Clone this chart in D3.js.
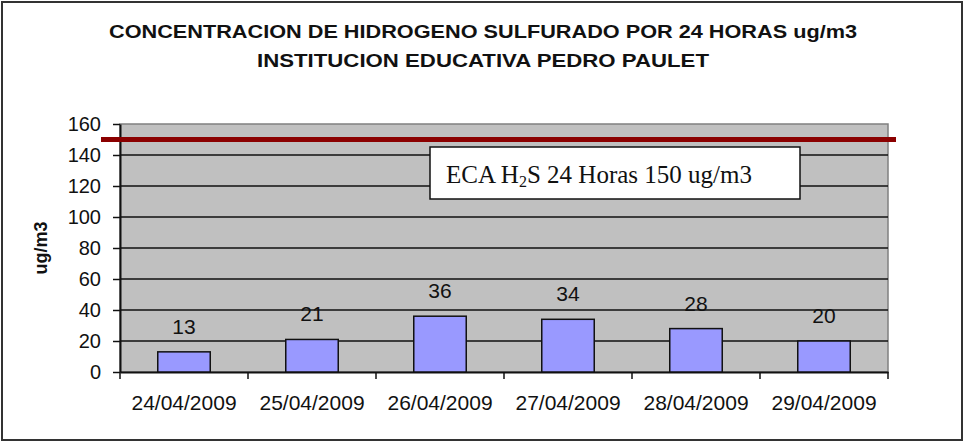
<!DOCTYPE html>
<html>
<head>
<meta charset="utf-8">
<script src="https://cdn.jsdelivr.net/npm/d3@7"></script>
<style>
  body { margin: 0; background: #fff; }
  text { font-family: "Liberation Sans", Arial, sans-serif; }
</style>
</head>
<body>
<svg id="chart"></svg>
<script>
const outerWidth = 966;
const outerHeight = 443;
const margin = {left: 120, top: 124, right: 78, bottom: 71};
const width = outerWidth - margin.left - margin.right;
const height = outerHeight - margin.top - margin.bottom;

var dates = ["24/04/2009", "25/04/2009", "26/04/2009", "27/04/2009", "28/04/2009", "29/04/2009"];
var values = [13, 21, 36, 34, 28, 20];
var yTicks = [0, 20, 40, 60, 80, 100, 120, 140, 160];
var limitValue = 150;
var titleLines = ["CONCENTRACION DE HIDROGENO SULFURADO POR 24 HORAS ug/m3", "INSTITUCION EDUCATIVA PEDRO PAULET"];

var svg = d3.select("#chart")
  .attr("width", outerWidth)
  .attr("height", outerHeight);

// outer frame
svg.append("rect")
  .attr("x", 2).attr("y", 2)
  .attr("width", 960).attr("height", 438)
  .style("fill", "white").style("stroke", "#333").style("stroke-width", 2);

svg.selectAll(".title")
  .data(titleLines)
  .enter()
  .append("text")
  .attr("class", "title")
  .attr("x", 483)
  .attr("y", (d, i) => 38 + i * 29)
  .attr("text-anchor", "middle")
  .style("font-weight", "bold")
  .style("font-size", "18.5px")
  .style("fill", "#111")
  .attr("textLength", (d, i) => i == 0 ? 748 : 452)
  .attr("lengthAdjust", "spacingAndGlyphs")
  .text(d => d);

var g = svg.append("g")
  .attr("transform", "translate(" + margin.left + "," + margin.top + ")");

var x = d3.scaleBand().domain(dates).range([0, width]).paddingInner(0.59).paddingOuter(0.295);
var xb = d3.scaleBand().domain(dates).range([0, width]);
var y = d3.scaleLinear().domain([0, 160]).range([height, 0]);

g.append("rect")
  .attr("width", width).attr("height", height)
  .style("fill", "#c0c0c0").style("stroke", "#808080").style("stroke-width", 1.5);

g.selectAll(".grid")
  .data(yTicks.slice(1, -1))
  .enter()
  .append("line")
  .attr("x1", 0).attr("x2", width)
  .attr("y1", d => y(d)).attr("y2", d => y(d))
  .style("stroke", "#111").style("stroke-width", 1.5);

var yAxis = g.append("g")
  .call(d3.axisLeft(y).tickValues(yTicks).tickSize(7).tickPadding(12).tickSizeOuter(0));
yAxis.select(".domain").style("stroke", "#111").style("stroke-width", 2);
yAxis.selectAll(".tick line").style("stroke", "#111").style("stroke-width", 1.5);
yAxis.selectAll("text").style("font-size", "20px").style("fill", "#111");

var xAxis = g.append("g")
  .attr("transform", "translate(0," + height + ")")
  .call(d3.axisBottom(xb).tickSize(0).tickPadding(23).tickSizeOuter(0));
xAxis.select(".domain").style("stroke", "#111").style("stroke-width", 2);
xAxis.selectAll("text").style("font-size", "21px").style("fill", "#111");

g.selectAll(".xtick")
  .data(d3.range(dates.length + 1))
  .enter()
  .append("line")
  .attr("x1", i => i * xb.step()).attr("x2", i => i * xb.step())
  .attr("y1", height).attr("y2", height + 7)
  .style("stroke", "#111").style("stroke-width", 1.5);

g.selectAll(".bar")
  .data(values)
  .enter()
  .append("rect")
  .attr("x", (d, i) => x(dates[i]))
  .attr("y", d => y(d))
  .attr("width", x.bandwidth())
  .attr("height", d => height - y(d))
  .style("fill", "#9999ff").style("stroke", "#111").style("stroke-width", 1.5);

g.selectAll(".val")
  .data(values)
  .enter()
  .append("text")
  .attr("x", (d, i) => x(dates[i]) + x.bandwidth() / 2)
  .attr("y", d => y(d) - 18)
  .attr("text-anchor", "middle")
  .style("font-size", "21px").style("fill", "#111")
  .text(d => d);

// limit line
g.append("line")
  .attr("x1", -19).attr("x2", width + 8)
  .attr("y1", y(limitValue)).attr("y2", y(limitValue))
  .style("stroke", "#8b0000").style("stroke-width", 5);

var box = g.append("g").attr("transform", "translate(310,23)");
box.append("rect")
  .attr("width", 370).attr("height", 52)
  .style("fill", "white").style("stroke", "#111").style("stroke-width", 1.5);
var lbl = box.append("text")
  .attr("x", 16).attr("y", 36)
  .style("font-family", "'Liberation Serif', 'Times New Roman', serif")
  .style("font-size", "25px").style("fill", "#111");
lbl.append("tspan").text("ECA H");
lbl.append("tspan").attr("dy", 4).style("font-size", "16px").text("2");
lbl.append("tspan").attr("dy", -4).text("S 24 Horas 150 ug/m3");

svg.append("text")
  .attr("transform", "translate(47,248) rotate(-90)")
  .attr("text-anchor", "middle")
  .style("font-weight", "bold").style("font-size", "18px")
  .style("fill", "#111")
  .text("ug/m3");
</script>
</body>
</html>
